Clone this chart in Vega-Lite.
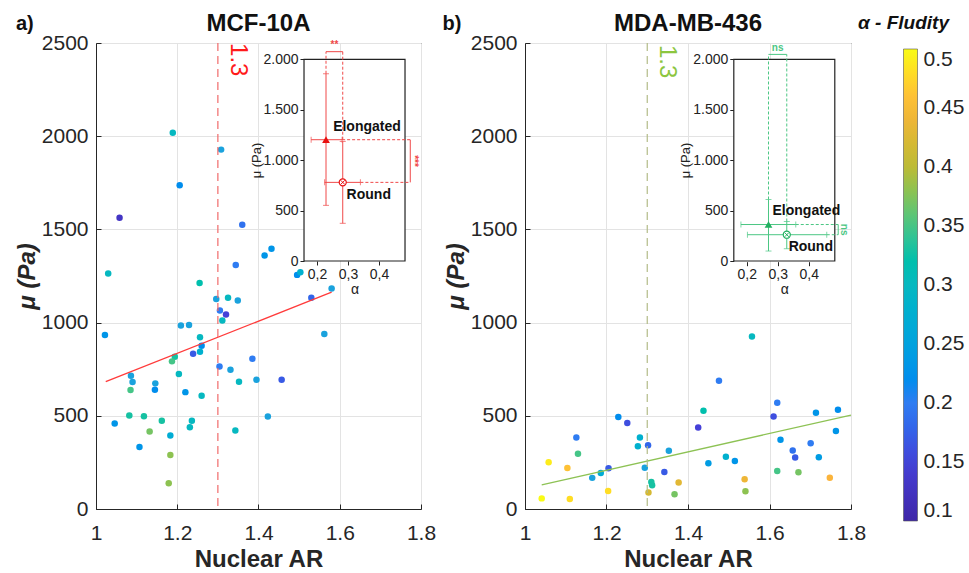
{
 "$schema": "https://vega.github.io/schema/vega-lite/v6.json",
 "padding": {"left": 14, "top": 11, "right": 0, "bottom": 0},
 "config": {
  "font": "Liberation Sans",
  "view": {"stroke": "#262626", "strokeWidth": 1},
  "axis": {"labelColor": "#262626", "titleColor": "#262626", "domainColor": "#262626", "tickColor": "#262626", "gridColor": "#e3e3e3"},
  "legend": {"orient": "none", "legendX": 762.5, "legendY": -29}
 },
 "datasets": {
  "a": [
   {"AR":1.189,"mu":2018,"alpha":0.30},{"AR":1.308,"mu":1928,"alpha":0.25},{"AR":1.206,"mu":1737,"alpha":0.22},
   {"AR":1.058,"mu":1563,"alpha":0.13},{"AR":1.36,"mu":1525,"alpha":0.19},{"AR":1.03,"mu":1263,"alpha":0.30},
   {"AR":1.344,"mu":1309,"alpha":0.20},{"AR":1.415,"mu":1360,"alpha":0.23},{"AR":1.432,"mu":1396,"alpha":0.23},
   {"AR":1.495,"mu":1256,"alpha":0.22},{"AR":1.503,"mu":1270,"alpha":0.28},{"AR":1.255,"mu":1213,"alpha":0.32},
   {"AR":1.296,"mu":1127,"alpha":0.25},{"AR":1.325,"mu":1133,"alpha":0.30},{"AR":1.349,"mu":1118,"alpha":0.25},
   {"AR":1.305,"mu":1065,"alpha":0.20},{"AR":1.32,"mu":1043,"alpha":0.15},{"AR":1.311,"mu":1011,"alpha":0.30},
   {"AR":1.209,"mu":984,"alpha":0.25},{"AR":1.229,"mu":987,"alpha":0.25},{"AR":1.022,"mu":934,"alpha":0.23},
   {"AR":1.256,"mu":921,"alpha":0.30},{"AR":1.26,"mu":876,"alpha":0.22},{"AR":1.256,"mu":844,"alpha":0.28},
   {"AR":1.239,"mu":833,"alpha":0.17},{"AR":1.194,"mu":817,"alpha":0.33},{"AR":1.187,"mu":792,"alpha":0.35},
   {"AR":1.304,"mu":765,"alpha":0.20},{"AR":1.331,"mu":747,"alpha":0.25},{"AR":1.385,"mu":806,"alpha":0.20},
   {"AR":1.086,"mu":715,"alpha":0.25},{"AR":1.09,"mu":681,"alpha":0.25},{"AR":1.204,"mu":724,"alpha":0.30},
   {"AR":1.352,"mu":683,"alpha":0.30},{"AR":1.395,"mu":694,"alpha":0.25},{"AR":1.146,"mu":674,"alpha":0.25},
   {"AR":1.145,"mu":640,"alpha":0.22},{"AR":1.085,"mu":638,"alpha":0.35},{"AR":1.22,"mu":627,"alpha":0.23},
   {"AR":1.26,"mu":608,"alpha":0.30},{"AR":1.082,"mu":502,"alpha":0.33},{"AR":1.118,"mu":498,"alpha":0.33},
   {"AR":1.046,"mu":459,"alpha":0.23},{"AR":1.162,"mu":473,"alpha":0.33},{"AR":1.236,"mu":473,"alpha":0.30},
   {"AR":1.231,"mu":439,"alpha":0.30},{"AR":1.132,"mu":416,"alpha":0.37},{"AR":1.183,"mu":394,"alpha":0.27},
   {"AR":1.343,"mu":421,"alpha":0.30},{"AR":1.107,"mu":333,"alpha":0.23},{"AR":1.183,"mu":290,"alpha":0.38},
   {"AR":1.179,"mu":138,"alpha":0.38},{"AR":1.423,"mu":496,"alpha":0.25},{"AR":1.58,"mu":1183,"alpha":0.25},
   {"AR":1.53,"mu":1133,"alpha":0.18},{"AR":1.562,"mu":939,"alpha":0.25},{"AR":1.457,"mu":694,"alpha":0.17}
  ],
  "b": [
   {"AR":1.229,"mu":493,"alpha":0.22},{"AR":1.251,"mu":461,"alpha":0.16},{"AR":1.126,"mu":384,"alpha":0.20},
   {"AR":1.282,"mu":384,"alpha":0.28},{"AR":1.277,"mu":337,"alpha":0.28},{"AR":1.302,"mu":342,"alpha":0.18},
   {"AR":1.353,"mu":312,"alpha":0.25},{"AR":1.13,"mu":296,"alpha":0.35},{"AR":1.058,"mu":251,"alpha":0.49},
   {"AR":1.104,"mu":220,"alpha":0.46},{"AR":1.205,"mu":218,"alpha":0.17},{"AR":1.186,"mu":193,"alpha":0.27},
   {"AR":1.165,"mu":167,"alpha":0.25},{"AR":1.294,"mu":221,"alpha":0.25},{"AR":1.342,"mu":198,"alpha":0.17},
   {"AR":1.31,"mu":145,"alpha":0.33},{"AR":1.312,"mu":127,"alpha":0.33},{"AR":1.377,"mu":142,"alpha":0.43},
   {"AR":1.204,"mu":97,"alpha":0.48},{"AR":1.303,"mu":88,"alpha":0.42},{"AR":1.367,"mu":79,"alpha":0.37},
   {"AR":1.041,"mu":57,"alpha":0.50},{"AR":1.11,"mu":54,"alpha":0.48},{"AR":1.557,"mu":926,"alpha":0.30},
   {"AR":1.476,"mu":688,"alpha":0.20},{"AR":1.619,"mu":570,"alpha":0.20},{"AR":1.438,"mu":527,"alpha":0.32},
   {"AR":1.714,"mu":516,"alpha":0.23},{"AR":1.768,"mu":532,"alpha":0.22},{"AR":1.61,"mu":496,"alpha":0.16},
   {"AR":1.425,"mu":437,"alpha":0.15},{"AR":1.763,"mu":418,"alpha":0.23},{"AR":1.627,"mu":372,"alpha":0.23},
   {"AR":1.701,"mu":353,"alpha":0.20},{"AR":1.657,"mu":314,"alpha":0.19},{"AR":1.663,"mu":276,"alpha":0.17},
   {"AR":1.721,"mu":278,"alpha":0.24},{"AR":1.493,"mu":280,"alpha":0.28},{"AR":1.515,"mu":258,"alpha":0.23},
   {"AR":1.45,"mu":246,"alpha":0.24},{"AR":1.619,"mu":204,"alpha":0.35},{"AR":1.671,"mu":197,"alpha":0.37},
   {"AR":1.539,"mu":160,"alpha":0.44},{"AR":1.748,"mu":168,"alpha":0.45},{"AR":1.541,"mu":95,"alpha":0.38}
  ],
  "fitA": [{"AR":1.024,"mu":683},{"AR":1.58,"mu":1163}],
  "fitB": [{"AR":1.041,"mu":129},{"AR":1.8,"mu":504}],
  "thr": [{"AR":1.3,"label":"1.3"}],
  "headA": [{"label":"a)","kind":"tag"},{"label":"MCF-10A","kind":"title"}],
  "headB": [{"label":"b)","kind":"tag"},{"label":"MDA-MB-436","kind":"title"}],
  "insetBox": [{"a0":0.158,"a1":0.484,"m0":0,"m1":2000}],
  "insetA": [
   {"group":"Elongated","alpha":0.229,"mu":1203,"alo":0.181,"ahi":0.281,"mlo":552,"mhi":1857},
   {"group":"Round","alpha":0.283,"mu":780,"alo":0.2245,"ahi":0.34,"mlo":374,"mhi":1186}
  ],
  "insetB": [
   {"group":"Elongated","alpha":0.27,"mu":362,"alo":0.181,"ahi":0.358,"mlo":99,"mhi":610},
   {"group":"Round","alpha":0.329,"mu":261,"alo":0.202,"ahi":0.458,"mlo":122,"mhi":392}
  ],
  "labelsA": [{"text":"Elongated","alpha":0.252,"mu":1332},{"text":"Round","alpha":0.2955,"mu":651}],
  "labelsB": [{"text":"Elongated","alpha":0.283,"mu":494},{"text":"Round","alpha":0.335,"mu":138}],
  "dashA": [
   {"alpha":0.281,"alpha2":0.501,"mu":1203,"mu2":1203},{"alpha":0.34,"alpha2":0.501,"mu":780,"mu2":780},
   {"alpha":0.229,"alpha2":0.229,"mu":1857,"mu2":2076},{"alpha":0.283,"alpha2":0.283,"mu":1203,"mu2":2076}
  ],
  "bracketA": [{"alpha":0.229,"alpha2":0.283,"mu":2076,"mu2":2076},{"alpha":0.501,"alpha2":0.501,"mu":780,"mu2":1203}],
  "sigTopA": [{"text":"**","alpha":0.256,"mu":2090}],
  "sigSideA": [{"text":"***","alpha":0.513,"mu":992}],
  "dashB": [
   {"alpha":0.358,"alpha2":0.495,"mu":362,"mu2":362},{"alpha":0.458,"alpha2":0.495,"mu":261,"mu2":261},
   {"alpha":0.27,"alpha2":0.27,"mu":610,"mu2":2049},{"alpha":0.329,"alpha2":0.329,"mu":392,"mu2":2049}
  ],
  "bracketB": [{"alpha":0.27,"alpha2":0.329,"mu":2049,"mu2":2049},{"alpha":0.495,"alpha2":0.495,"mu":261,"mu2":362}],
  "sigTopB": [{"text":"ns","alpha":0.2995,"mu":2065}],
  "sigSideB": [{"text":"ns","alpha":0.513,"mu":311}]
 },
 "spacing": 4,
 "resolve": {"scale": {"color": "shared"}},
 "hconcat": [
  {
   "width": 325,
   "height": 466,
   "view": {"stroke": "#262626", "strokeWidth": 1},
   "resolve": {"scale": {"x": "independent", "y": "independent"}},
   "layer": [
    {
     "layer": [
      {
       "data": {"name": "a"},
       "mark": {"type": "point", "filled": true, "size": 42, "opacity": 1},
       "encoding": {
        "x": {"field": "AR", "type": "quantitative", "scale": {"domain": [1, 1.8], "nice": false, "zero": false},
              "axis": {"title": "Nuclear AR", "values": [1, 1.2, 1.4, 1.6, 1.8], "format": "~g", "labelFontSize": 21, "titleFontSize": 24, "titleFontWeight": "bold", "tickSize": -5, "labelPadding": 18, "titlePadding": 4, "domain": true, "labelFlush": false}},
        "y": {"field": "mu", "type": "quantitative", "scale": {"domain": [0, 2500], "nice": false},
              "axis": {"title": "μ (Pa)", "values": [0, 500, 1000, 1500, 2000, 2500], "format": "d", "labelFontSize": 21, "titleFontSize": 24, "titleFontWeight": "bold", "titleFontStyle": "italic", "tickSize": -5, "labelPadding": 13, "titlePadding": 2, "domain": true, "labelFlush": false}},
        "color": {"field": "alpha", "type": "quantitative",
                  "scale": {"domain": [0.1, 0.15, 0.2, 0.25, 0.3, 0.35, 0.4, 0.45, 0.5], "range": ["#3e26a8", "#4540d8", "#2f7cf2", "#1aa2dd", "#06b8c0", "#45c587", "#bcbb36", "#fbb43c", "#f9fb15"]},
                  "legend": {"title": "α - Fludity", "orient": "none", "legendX": 762.5, "legendY": -29, "direction": "vertical", "gradientLength": 472, "gradientThickness": 14, "gradientStrokeColor": "#555555", "gradientStrokeWidth": 0.6, "values": [0.1, 0.15, 0.2, 0.25, 0.3, 0.35, 0.4, 0.45, 0.5], "format": "~g", "labelFontSize": 21, "labelColor": "#262626", "labelOffset": 6, "titleFontSize": 19, "titleFontWeight": "bold", "titleFontStyle": "italic", "titleColor": "#111111", "titleAnchor": "start", "titleAlign": "center", "titlePadding": 16, "labelOverlap": false}}
       }
      },
      {
       "data": {"name": "fitA"},
       "mark": {"type": "line", "color": "#ff3b3b", "strokeWidth": 1.3},
       "encoding": {"x": {"field": "AR", "type": "quantitative"}, "y": {"field": "mu", "type": "quantitative"}}
      },
      {
       "data": {"name": "thr"},
       "mark": {"type": "rule", "color": "#f06a6a", "strokeDash": [8, 5], "strokeWidth": 1.2},
       "encoding": {"x": {"field": "AR", "type": "quantitative"}}
      },
      {
       "data": {"name": "thr"},
       "mark": {"type": "text", "angle": 90, "fontSize": 24, "color": "#ff1a1a", "align": "center", "baseline": "middle", "dy": -20},
       "encoding": {"x": {"field": "AR", "type": "quantitative"}, "y": {"datum": 2410}, "text": {"field": "label"}}
      },
      {
       "data": {"name": "headA"},
       "transform": [{"filter": "datum.kind === 'tag'"}],
       "mark": {"type": "text", "fontSize": 20, "fontWeight": "bold", "color": "#111111", "align": "left", "baseline": "middle"},
       "encoding": {"x": {"datum": 0.803}, "y": {"datum": 2602}, "text": {"field": "label"}}
      },
      {
       "data": {"name": "headA"},
       "transform": [{"filter": "datum.kind === 'title'"}],
       "mark": {"type": "text", "fontSize": 24, "fontWeight": "bold", "color": "#111111", "align": "center", "baseline": "middle"},
       "encoding": {"x": {"datum": 1.4}, "y": {"datum": 2602}, "text": {"field": "label"}}
      }
     ]
    },
    {
     "layer": [
      {
       "data": {"name": "insetBox"},
       "mark": {"type": "rect", "fill": "white", "stroke": "#222222", "strokeWidth": 1.2},
       "encoding": {
        "x": {"field": "a0", "type": "quantitative", "title": "α", "scale": {"domain": [-0.5134, 0.5356], "nice": false, "zero": false},
              "axis": {"orient": "bottom", "offset": -248, "title": "α", "values": [0.2, 0.3, 0.4], "labelExpr": "replace(format(datum.value, '.1f'), '.', ',')", "grid": false, "domain": false, "tickSize": 4, "tickColor": "#222222", "labelFontSize": 14, "labelColor": "#222222", "labelPadding": 2, "titleFontSize": 14, "titleFontWeight": "normal", "titleColor": "#222222", "titleX": 258.5, "titleY": 21, "titleBaseline": "top"}},
        "x2": {"field": "a1"},
        "y": {"field": "m0", "type": "quantitative", "title": "μ (Pa)", "scale": {"domain": [-2459, 2162], "nice": false, "zero": false},
              "axis": {"orient": "left", "offset": -208, "title": "μ (Pa)", "values": [0, 500, 1000, 1500, 2000], "labelExpr": "replace(format(datum.value, ','), ',', '.')", "grid": false, "domain": false, "tickSize": 4, "tickColor": "#222222", "labelFontSize": 14, "labelColor": "#222222", "labelPadding": 2, "titleFontSize": 13, "titleFontWeight": "normal", "titleColor": "#222222", "titleX": -48, "titleY": 117, "titleBaseline": "middle", "titleAngle": -90}},
        "y2": {"field": "m1"}
       }
      },
      {
       "data": {"name": "dashA"},
       "mark": {"type": "rule", "color": "#f04848", "strokeDash": [3, 2], "strokeWidth": 1},
       "encoding": {"x": {"field": "alpha", "type": "quantitative", "title": "α"}, "x2": {"field": "alpha2"}, "y": {"field": "mu", "type": "quantitative", "title": "μ (Pa)"}, "y2": {"field": "mu2"}}
      },
      {
       "data": {"name": "bracketA"},
       "mark": {"type": "rule", "color": "#f04848", "strokeWidth": 1},
       "encoding": {"x": {"field": "alpha", "type": "quantitative", "title": "α"}, "x2": {"field": "alpha2"}, "y": {"field": "mu", "type": "quantitative", "title": "μ (Pa)"}, "y2": {"field": "mu2"}}
      },
      {
       "data": {"name": "insetA"},
       "mark": {"type": "errorbar", "color": "#f04848", "thickness": 1, "ticks": {"size": 6}},
       "encoding": {"x": {"field": "alpha", "type": "quantitative", "title": "α"}, "y": {"field": "mlo", "type": "quantitative", "title": "μ (Pa)"}, "y2": {"field": "mhi"}}
      },
      {
       "data": {"name": "insetA"},
       "mark": {"type": "errorbar", "color": "#f04848", "thickness": 1, "ticks": {"size": 6}},
       "encoding": {"y": {"field": "mu", "type": "quantitative", "title": "μ (Pa)"}, "x": {"field": "alo", "type": "quantitative", "title": "α"}, "x2": {"field": "ahi"}}
      },
      {
       "data": {"name": "insetA"},
       "transform": [{"filter": "datum.group === 'Elongated'"}],
       "mark": {"type": "point", "shape": "triangle-up", "filled": true, "size": 60, "color": "#e81010", "opacity": 1},
       "encoding": {"x": {"field": "alpha", "type": "quantitative", "title": "α"}, "y": {"field": "mu", "type": "quantitative", "title": "μ (Pa)"}}
      },
      {
       "data": {"name": "insetA"},
       "transform": [{"filter": "datum.group === 'Round'"}],
       "mark": {"type": "point", "shape": "circle", "filled": true, "fill": "white", "stroke": "#e81010", "strokeWidth": 1.2, "size": 50, "opacity": 1},
       "encoding": {"x": {"field": "alpha", "type": "quantitative", "title": "α"}, "y": {"field": "mu", "type": "quantitative", "title": "μ (Pa)"}}
      },
      {
       "data": {"name": "insetA"},
       "transform": [{"filter": "datum.group === 'Round'"}],
       "mark": {"type": "point", "shape": "M-0.6,-0.6L0.6,0.6M-0.6,0.6L0.6,-0.6", "filled": false, "color": "#e81010", "strokeWidth": 1, "size": 50, "opacity": 1},
       "encoding": {"x": {"field": "alpha", "type": "quantitative", "title": "α"}, "y": {"field": "mu", "type": "quantitative", "title": "μ (Pa)"}}
      },
      {
       "data": {"name": "labelsA"},
       "mark": {"type": "text", "fontSize": 14, "fontWeight": "bold", "color": "#111111", "align": "left", "baseline": "middle"},
       "encoding": {"x": {"field": "alpha", "type": "quantitative", "title": "α"}, "y": {"field": "mu", "type": "quantitative", "title": "μ (Pa)"}, "text": {"field": "text"}}
      },
      {
       "data": {"name": "sigTopA"},
       "mark": {"type": "text", "fontSize": 10, "fontWeight": "bold", "color": "#f04848", "align": "center", "baseline": "bottom"},
       "encoding": {"x": {"field": "alpha", "type": "quantitative", "title": "α"}, "y": {"field": "mu", "type": "quantitative", "title": "μ (Pa)"}, "text": {"field": "text"}}
      },
      {
       "data": {"name": "sigSideA"},
       "mark": {"type": "text", "fontSize": 10, "fontWeight": "bold", "color": "#f04848", "align": "center", "baseline": "middle", "angle": 90},
       "encoding": {"x": {"field": "alpha", "type": "quantitative", "title": "α"}, "y": {"field": "mu", "type": "quantitative", "title": "μ (Pa)"}, "text": {"field": "text"}}
      }
     ]
    }
   ]
  },
  {
   "width": 326,
   "height": 466,
   "view": {"stroke": "#262626", "strokeWidth": 1},
   "resolve": {"scale": {"x": "independent", "y": "independent"}},
   "layer": [
    {
     "layer": [
      {
       "data": {"name": "b"},
       "mark": {"type": "point", "filled": true, "size": 42, "opacity": 1},
       "encoding": {
        "x": {"field": "AR", "type": "quantitative", "scale": {"domain": [1, 1.8], "nice": false, "zero": false},
              "axis": {"title": "Nuclear AR", "values": [1, 1.2, 1.4, 1.6, 1.8], "format": "~g", "labelFontSize": 21, "titleFontSize": 24, "titleFontWeight": "bold", "tickSize": -5, "labelPadding": 18, "titlePadding": 4, "domain": true, "labelFlush": false}},
        "y": {"field": "mu", "type": "quantitative", "scale": {"domain": [0, 2500], "nice": false},
              "axis": {"title": "μ (Pa)", "values": [0, 500, 1000, 1500, 2000, 2500], "format": "d", "labelFontSize": 21, "titleFontSize": 24, "titleFontWeight": "bold", "titleFontStyle": "italic", "tickSize": -5, "labelPadding": 13, "titlePadding": 2, "domain": true, "labelFlush": false}},
        "color": {"field": "alpha", "type": "quantitative",
                  "scale": {"domain": [0.1, 0.15, 0.2, 0.25, 0.3, 0.35, 0.4, 0.45, 0.5], "range": ["#3e26a8", "#4540d8", "#2f7cf2", "#1aa2dd", "#06b8c0", "#45c587", "#bcbb36", "#fbb43c", "#f9fb15"]},
                  "legend": {"title": "α - Fludity", "orient": "none", "legendX": 762.5, "legendY": -29, "direction": "vertical", "gradientLength": 472, "gradientThickness": 14, "gradientStrokeColor": "#555555", "gradientStrokeWidth": 0.6, "values": [0.1, 0.15, 0.2, 0.25, 0.3, 0.35, 0.4, 0.45, 0.5], "format": "~g", "labelFontSize": 21, "labelColor": "#262626", "labelOffset": 6, "titleFontSize": 19, "titleFontWeight": "bold", "titleFontStyle": "italic", "titleColor": "#111111", "titleAnchor": "start", "titleAlign": "center", "titlePadding": 16, "labelOverlap": false}}
       }
      },
      {
       "data": {"name": "fitB"},
       "mark": {"type": "line", "color": "#8dc254", "strokeWidth": 1.3},
       "encoding": {"x": {"field": "AR", "type": "quantitative"}, "y": {"field": "mu", "type": "quantitative"}}
      },
      {
       "data": {"name": "thr"},
       "mark": {"type": "rule", "color": "#b3bb88", "strokeDash": [8, 5], "strokeWidth": 1.2},
       "encoding": {"x": {"field": "AR", "type": "quantitative"}}
      },
      {
       "data": {"name": "thr"},
       "mark": {"type": "text", "angle": 90, "fontSize": 24, "color": "#8cc63f", "align": "center", "baseline": "middle", "dy": -20},
       "encoding": {"x": {"field": "AR", "type": "quantitative"}, "y": {"datum": 2400}, "text": {"field": "label"}}
      },
      {
       "data": {"name": "headB"},
       "transform": [{"filter": "datum.kind === 'tag'"}],
       "mark": {"type": "text", "fontSize": 20, "fontWeight": "bold", "color": "#111111", "align": "left", "baseline": "middle"},
       "encoding": {"x": {"datum": 0.7975}, "y": {"datum": 2602}, "text": {"field": "label"}}
      },
      {
       "data": {"name": "headB"},
       "transform": [{"filter": "datum.kind === 'title'"}],
       "mark": {"type": "text", "fontSize": 24, "fontWeight": "bold", "color": "#111111", "align": "center", "baseline": "middle"},
       "encoding": {"x": {"datum": 1.4}, "y": {"datum": 2602}, "text": {"field": "label"}}
      }
     ]
    },
    {
     "layer": [
      {
       "data": {"name": "insetBox"},
       "mark": {"type": "rect", "fill": "white", "stroke": "#222222", "strokeWidth": 1.2},
       "encoding": {
        "x": {"field": "a0", "type": "quantitative", "title": "α", "scale": {"domain": [-0.516, 0.5363], "nice": false, "zero": false},
              "axis": {"orient": "bottom", "offset": -247.3, "title": "α", "values": [0.2, 0.3, 0.4], "labelExpr": "replace(format(datum.value, '.1f'), '.', ',')", "grid": false, "domain": false, "tickSize": 4, "tickColor": "#222222", "labelFontSize": 14, "labelColor": "#222222", "labelPadding": 2, "titleFontSize": 14, "titleFontWeight": "normal", "titleColor": "#222222", "titleX": 259.3, "titleY": 21, "titleBaseline": "top"}},
        "x2": {"field": "a1"},
        "y": {"field": "m0", "type": "quantitative", "title": "μ (Pa)", "scale": {"domain": [-2459, 2162], "nice": false, "zero": false},
              "axis": {"orient": "left", "offset": -208.8, "title": "μ (Pa)", "values": [0, 500, 1000, 1500, 2000], "labelExpr": "replace(format(datum.value, ','), ',', '.')", "grid": false, "domain": false, "tickSize": 4, "tickColor": "#222222", "labelFontSize": 14, "labelColor": "#222222", "labelPadding": 2, "titleFontSize": 13, "titleFontWeight": "normal", "titleColor": "#222222", "titleX": -48, "titleY": 117, "titleBaseline": "middle", "titleAngle": -90}},
        "y2": {"field": "m1"}
       }
      },
      {
       "data": {"name": "dashB"},
       "mark": {"type": "rule", "color": "#4cc784", "strokeDash": [3, 2], "strokeWidth": 1},
       "encoding": {"x": {"field": "alpha", "type": "quantitative", "title": "α"}, "x2": {"field": "alpha2"}, "y": {"field": "mu", "type": "quantitative", "title": "μ (Pa)"}, "y2": {"field": "mu2"}}
      },
      {
       "data": {"name": "bracketB"},
       "mark": {"type": "rule", "color": "#4cc784", "strokeWidth": 1},
       "encoding": {"x": {"field": "alpha", "type": "quantitative", "title": "α"}, "x2": {"field": "alpha2"}, "y": {"field": "mu", "type": "quantitative", "title": "μ (Pa)"}, "y2": {"field": "mu2"}}
      },
      {
       "data": {"name": "insetB"},
       "mark": {"type": "errorbar", "color": "#4cc784", "thickness": 1, "ticks": {"size": 6}},
       "encoding": {"x": {"field": "alpha", "type": "quantitative", "title": "α"}, "y": {"field": "mlo", "type": "quantitative", "title": "μ (Pa)"}, "y2": {"field": "mhi"}}
      },
      {
       "data": {"name": "insetB"},
       "mark": {"type": "errorbar", "color": "#4cc784", "thickness": 1, "ticks": {"size": 6}},
       "encoding": {"y": {"field": "mu", "type": "quantitative", "title": "μ (Pa)"}, "x": {"field": "alo", "type": "quantitative", "title": "α"}, "x2": {"field": "ahi"}}
      },
      {
       "data": {"name": "insetB"},
       "transform": [{"filter": "datum.group === 'Elongated'"}],
       "mark": {"type": "point", "shape": "triangle-up", "filled": true, "size": 60, "color": "#22b060", "opacity": 1},
       "encoding": {"x": {"field": "alpha", "type": "quantitative", "title": "α"}, "y": {"field": "mu", "type": "quantitative", "title": "μ (Pa)"}}
      },
      {
       "data": {"name": "insetB"},
       "transform": [{"filter": "datum.group === 'Round'"}],
       "mark": {"type": "point", "shape": "circle", "filled": true, "fill": "white", "stroke": "#22b060", "strokeWidth": 1.2, "size": 50, "opacity": 1},
       "encoding": {"x": {"field": "alpha", "type": "quantitative", "title": "α"}, "y": {"field": "mu", "type": "quantitative", "title": "μ (Pa)"}}
      },
      {
       "data": {"name": "insetB"},
       "transform": [{"filter": "datum.group === 'Round'"}],
       "mark": {"type": "point", "shape": "M-0.6,-0.6L0.6,0.6M-0.6,0.6L0.6,-0.6", "filled": false, "color": "#22b060", "strokeWidth": 1, "size": 50, "opacity": 1},
       "encoding": {"x": {"field": "alpha", "type": "quantitative", "title": "α"}, "y": {"field": "mu", "type": "quantitative", "title": "μ (Pa)"}}
      },
      {
       "data": {"name": "labelsB"},
       "mark": {"type": "text", "fontSize": 14, "fontWeight": "bold", "color": "#111111", "align": "left", "baseline": "middle"},
       "encoding": {"x": {"field": "alpha", "type": "quantitative", "title": "α"}, "y": {"field": "mu", "type": "quantitative", "title": "μ (Pa)"}, "text": {"field": "text"}}
      },
      {
       "data": {"name": "sigTopB"},
       "mark": {"type": "text", "fontSize": 10, "fontWeight": "bold", "color": "#4cc784", "align": "center", "baseline": "bottom"},
       "encoding": {"x": {"field": "alpha", "type": "quantitative", "title": "α"}, "y": {"field": "mu", "type": "quantitative", "title": "μ (Pa)"}, "text": {"field": "text"}}
      },
      {
       "data": {"name": "sigSideB"},
       "mark": {"type": "text", "fontSize": 10, "fontWeight": "bold", "color": "#4cc784", "align": "center", "baseline": "middle", "angle": 90},
       "encoding": {"x": {"field": "alpha", "type": "quantitative", "title": "α"}, "y": {"field": "mu", "type": "quantitative", "title": "μ (Pa)"}, "text": {"field": "text"}}
      }
     ]
    }
   ]
  }
 ]
}
